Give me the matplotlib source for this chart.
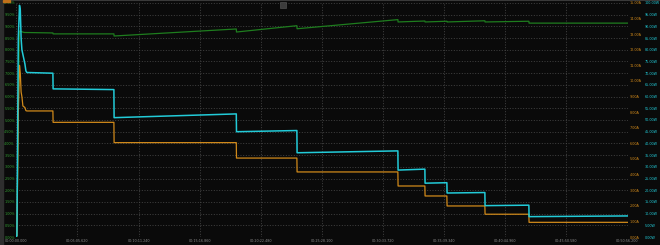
import matplotlib
matplotlib.use("Agg")
import matplotlib.pyplot as plt
from matplotlib.ticker import FixedLocator, FuncFormatter
from matplotlib.patches import Rectangle

# ---- data (time in seconds) ----
green_t = [0, 3, 15, 40, 183, 184, 488, 489, 1100, 1101, 1403, 1404, 1908, 1909,
           2043, 2044, 2153, 2154, 2343, 2344, 2563, 2564, 3056]
green_pct = [0.0, 0.0, 8.80, 8.74, 8.72, 8.68, 8.68, 8.59, 8.89, 8.76, 9.03, 8.90, 9.29, 9.19,
             9.23, 9.19, 9.22, 9.19, 9.24, 9.19, 9.22, 9.14, 9.14]

cyan_t = [0, 3, 10, 16, 20, 24, 28, 33, 38, 43, 48, 53, 183, 184, 488, 489,
          1100, 1101, 1403, 1404, 1908, 1909, 2043, 2044, 2153, 2154,
          2343, 2344, 2563, 2564, 3056]
cyan_w = [0.3, 0.5, 85, 99, 97, 85, 80, 78, 76, 74, 71, 70.3, 70.0, 63.3, 63.0, 51.0,
          52.6, 45.0, 45.5, 36.0, 36.8, 28.6, 29.0, 23.0, 23.2, 18.8,
          19.0, 13.4, 13.6, 8.7, 9.0]

orange_t = [0, 3, 10, 16, 20, 24, 28, 33, 43, 48, 53, 183, 184, 488, 489,
            1100, 1101, 1403, 1404, 1908, 1909, 2043, 2044, 2153, 2154,
            2343, 2344, 2563, 2564, 3056]
orange_a = [0.0, 0.1, 8.0, 11.0, 10.5, 9.3, 9.0, 8.4, 8.3, 8.1, 8.08, 8.08, 7.35, 7.35, 6.05,
            6.05, 5.06, 5.06, 4.17, 4.17, 3.27, 3.27, 2.63, 2.63, 1.99,
            1.99, 1.46, 1.46, 0.94, 0.94]

x_ticks = [0, 305.62, 611.24, 916.86, 1222.48, 1528.10, 1833.72, 2139.34, 2444.96, 2750.58, 3056.20]
left_ticks = [i * 0.5 for i in range(21)]
amp_ticks = [float(i) for i in range(16)]
watt_ticks = [i * 5.0 for i in range(21)]

BG = "#0a0a0a"
GRID = "#4a4a4a"
GREEN = "#1e7d1e"
GREEN_TXT = "#34a034"
CYAN = "#22cbd8"
ORANGE = "#d0891a"
FS = 2.4

fig = plt.figure(figsize=(6.6, 2.45), dpi=100, facecolor=BG)
ax = fig.add_axes([16.3 / 660, 8 / 245, (627.5 - 16.3) / 660, (242 - 8) / 245])
ax.set_facecolor(BG)

def fmt_time(s, pos=None):
    ms = int(round(s * 1000))
    h = ms // 3600000
    m = (ms // 60000) % 60
    sec = (ms // 1000) % 60
    return f"{h:02d}:{m:02d}:{sec:02d}.{ms % 1000:03d}"

ax.set_xlim(0, 3056.2)
ax.set_ylim(0, 10)
ax.xaxis.set_major_locator(FixedLocator(x_ticks))
ax.xaxis.set_major_formatter(FuncFormatter(fmt_time))
ax.yaxis.set_major_locator(FixedLocator(left_ticks))
ax.yaxis.set_major_formatter(FuncFormatter(lambda v, p: f"{v:.2f}%"))
ax.tick_params(axis="x", length=0, pad=1.2, labelsize=FS, labelcolor="#8a8a8a")
ax.tick_params(axis="y", length=0, pad=1.0, labelsize=FS, labelcolor=GREEN_TXT)
ax.grid(True, color=GRID, linestyle=(0, (1.2, 2.0)), linewidth=0.6)
for sp in ax.spines.values():
    sp.set_visible(False)

ax2 = ax.twinx()
ax2.set_ylim(0, 15)
ax2.yaxis.set_major_locator(FixedLocator(amp_ticks))
ax2.yaxis.set_major_formatter(FuncFormatter(lambda v, p: f"{v:.2f}A"))
ax2.tick_params(axis="y", length=0, pad=1.5, labelsize=FS, labelcolor=ORANGE)
for sp in ax2.spines.values():
    sp.set_visible(False)

ax3 = ax.twinx()
ax3.set_ylim(0, 100)
ax3.spines["right"].set_position(("outward", 11))
ax3.yaxis.set_major_locator(FixedLocator(watt_ticks))
ax3.yaxis.set_major_formatter(FuncFormatter(lambda v, p: f"{v:.2f}W"))
ax3.tick_params(axis="y", length=0, pad=1.5, labelsize=FS, labelcolor=CYAN)
for sp in ax3.spines.values():
    sp.set_visible(False)

ax.plot(green_t, green_pct, color=GREEN, linewidth=0.9, zorder=3)
ax2.plot(orange_t, orange_a, color=ORANGE, linewidth=0.9, zorder=3)
ax3.plot(cyan_t, cyan_w, color=CYAN, linewidth=1.1, zorder=4)

# window chrome: top border, left strip, small icon
fig.add_artist(plt.Line2D([0, 1], [0.998, 0.998], transform=fig.transFigure, color="#3a3a3a", linewidth=1.5))
fig.add_artist(Rectangle((0, 0), 2.5 / 660, 1, transform=fig.transFigure, color="#2e2e2e", zorder=10))
fig.add_artist(Rectangle((3 / 660, 243 / 245), 7 / 660, 2 / 245, transform=fig.transFigure, color="#c0701a", zorder=10))
fig.add_artist(Rectangle((280 / 660, 237 / 245), 6 / 660, 6 / 245, transform=fig.transFigure,
                         facecolor="#3c3c3c", edgecolor="#5a5a5a", linewidth=0.4, zorder=10))

fig.savefig("out.png", dpi=100, facecolor=BG)
